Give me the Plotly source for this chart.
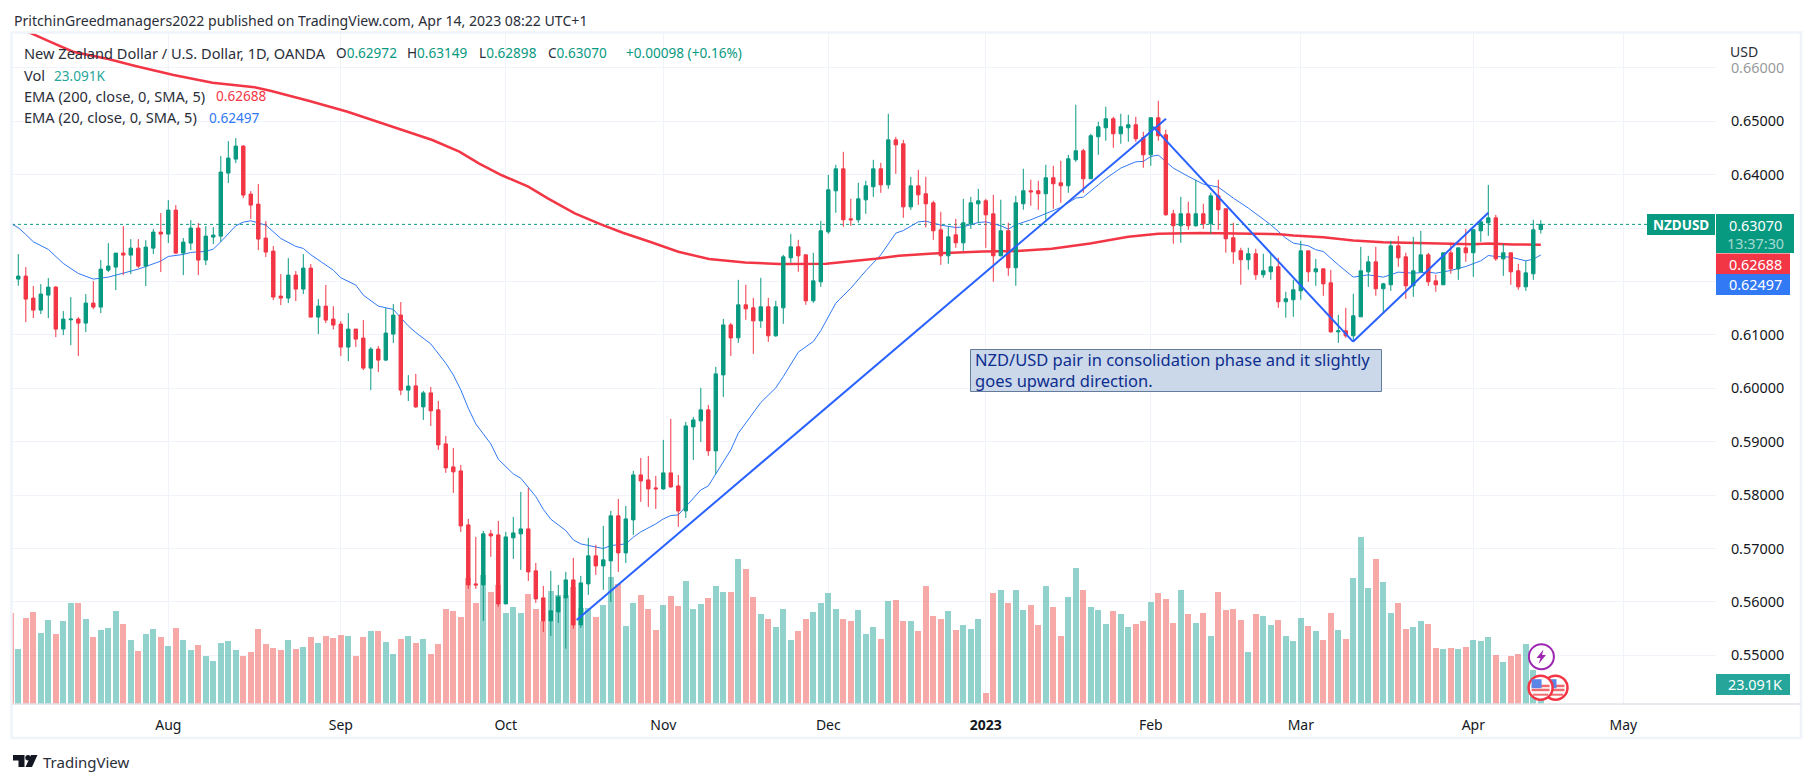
import plotly.graph_objects as go

# ---------- values (prices in 1e-5 points, volume in K) ----------
opens_pts = [
62045,62101,61689,61464,61745,61895,61109,61283,61296,61221,
61596,61521,62213,62270,62532,62494,62625,62288,62625,62925,
62888,63337,62532,62719,63000,62401,62831,62850,64030,64292,
64536,63637,63449,62813,62569,61727,61689,62120,61858,62251,
61333,61539,61296,61202,60772,61109,60940,60378,60734,60528,
61015,61371,59966,60045,59652,59914,59596,58959,58528,58453,
57442,56337,56318,57274,57255,55963,57199,57274,57367,56581,
56075,55644,55813,56075,56412,55569,56337,56862,56674,56768,
57611,56918,57536,58378,58285,58135,58116,58416,58172,57704,
59277,59390,59596,58828,60251,61187,60945,61563,61507,61263,
61526,60983,61507,62443,62649,62499,61638,61994,62930,63698,
64110,63173,63155,63529,63773,64110,63810,64653,64578,63398,
63791,63642,63473,62968,62481,62874,62724,63080,63454,63511,
63267,62482,62950,62257,63456,63699,63699,63643,63943,63849,
63793,64280,64448,63924,64710,64879,65047,64766,64879,64935,
64692,64373,65066,64748,63268,63044,63268,63044,63268,63081,
63605,63362,62819,62576,62407,62519,62126,62182,62276,61621,
61658,61825,62574,62181,62237,61975,61057,61076,60983,61338,
62181,62368,61863,61938,62668,62462,61919,62181,62499,62012,
61938,62537,62237,62630,62537,62949,63099,63192,62424,62537,
62200,61900,62144,62972]
closes_pts = [
62101,61670,61464,61764,61895,61109,61296,61296,61221,61596,
61521,62232,62288,62532,62494,62625,62288,62644,62925,62888,
63337,62532,62738,63000,62401,62850,62869,64049,64311,64536,
63618,63431,62794,62551,61708,61689,62120,61858,62251,61333,
61539,61277,61184,60772,61109,60921,60378,60734,60528,61034,
61371,59966,60041,59652,59914,59577,58940,58509,58435,57423,
56318,56318,57274,57236,55963,57217,57292,57367,56562,56056,
55644,55832,56094,56412,55569,56356,56862,56674,56787,57611,
56918,57554,58378,58266,58116,58116,58416,58154,57704,59296,
59408,59596,58828,60270,61187,60944,61563,61488,61263,61526,
60983,61526,62462,62649,62481,61638,62012,62949,63717,64110,
63155,63155,63548,63791,64110,63810,64653,64559,63398,63791,
63623,63454,62949,62481,62836,62724,63099,63473,63511,63248,
62481,62950,62257,63474,63699,63680,63643,63943,63830,63793,
64298,64448,63924,64729,64898,65047,64766,64898,64935,64673,
64373,65066,64729,63250,63044,63268,63044,63268,63081,63605,
63343,62800,62557,62407,62519,62126,62201,62276,61621,61677,
61845,62574,62181,62237,61956,61057,61076,60983,61357,62200,
62368,61863,61956,62668,62443,61919,62200,62499,61994,61938,
62537,62237,62630,62537,62968,63117,63192,62424,62537,62181,
61900,62162,62968,63070]
highs_pts = [
62513,62270,61914,61951,62064,61914,61446,61708,61333,61764,
62008,62401,62719,62532,63037,62794,62794,62775,62981,63281,
63524,63431,62813,63150,63094,63037,63019,64348,64629,64685,
64554,63693,63824,63131,62663,62139,62438,62195,62513,62326,
61670,61933,61539,61258,61408,61109,61277,60772,60790,61502,
61577,61614,60247,60270,59951,60026,59764,59109,58884,58566,
57554,57217,57330,57348,57517,57311,57592,58060,58135,56730,
56300,56581,56318,56562,56824,56487,57199,57068,57423,57704,
57929,57798,58453,58697,58734,58360,59034,59427,58378,59371,
59464,60008,59689,60401,61300,61225,62031,61938,61694,62069,
61694,61638,62499,62893,62780,62499,62537,63136,63997,64185,
64428,63548,63848,63885,64278,64222,65140,64709,64653,63960,
64091,63960,63511,63305,63024,63173,63548,63585,63735,63548,
63623,63531,63100,63605,64111,63905,63886,64186,64167,64261,
64373,65310,64486,64766,64991,65272,65085,65141,65122,65085,
64804,65066,65384,64841,63343,63587,63493,63905,63456,63662,
63905,63362,63100,62632,62632,62613,62519,62519,62444,61808,
62032,62762,62574,62424,62237,62218,61376,61507,61769,62649,
62481,62649,61975,62762,62855,62537,62836,62949,62537,62125,
62537,62724,62630,62986,62986,63155,63810,63248,62705,62537,
62331,62387,63155,63149]
lows_pts = [
61920,61240,61315,61390,61315,60959,60996,60809,60603,61052,
61483,61408,62176,61839,62120,62139,62251,61914,62513,62176,
62719,62513,62120,62588,62120,62307,62700,62738,63843,64217,
63562,63169,62588,62457,61652,61558,61596,61633,61764,61333,
61015,61221,61102,60603,60509,60772,60341,59966,60303,60509,
60847,59873,59760,59633,59408,59296,58847,58416,58041,57311,
56244,56244,55644,56843,55907,55963,56805,56599,56393,55981,
55438,55363,55607,55124,55495,55513,56131,56506,56225,56000,
56562,56730,57255,57873,57779,57742,58097,58135,57405,57573,
58659,58996,58734,58397,59839,60607,60851,61282,60645,61132,
60870,60964,61207,62350,62181,61563,61601,61900,62893,63286,
63024,63042,63099,63267,63585,63660,63735,64016,63192,63342,
63436,63011,62780,62312,62331,62630,62574,62986,63099,62630,
61994,62469,62107,61920,63343,63418,63343,63156,63362,63474,
63662,64242,63662,63924,64373,64635,64504,64579,64617,64617,
64130,64167,64635,63231,62707,62725,62969,63025,62988,62894,
62969,62538,62332,61939,62220,62032,62070,62032,61508,61321,
61340,61657,61994,61919,61732,61039,60851,60945,60889,61338,
61900,61732,61413,61825,62275,61675,61713,62181,61919,61807,
61938,62144,62031,62368,62087,62743,62855,62387,62106,61938,
61844,61825,62031,62898]
# first entry is a bar just cut off by the left edge of the pane
volumes_k = [104.7,
63.5,99.3,106.3,82.0,97.0,80.9,95.9,116.7,116.7,98.2,
77.4,85.5,87.8,107.4,92.4,73.9,61.2,80.9,86.6,77.4,
67.0,87.8,73.9,62.4,68.1,55.4,49.7,70.5,72.8,62.4,
55.4,60.1,86.6,69.3,64.7,62.4,73.9,63.5,65.8,77.4,
70.5,78.5,76.2,79.7,78.5,55.4,77.4,84.3,84.3,71.6,
57.8,75.1,78.5,70.5,75.1,57.8,69.3,109.7,107.4,100.5,
145.5,116.7,149.0,129.4,137.4,105.1,112.0,105.1,127.1,109.7,
95.9,130.5,125.9,125.9,135.1,110.9,110.9,100.5,114.3,146.7,
138.6,90.1,116.7,125.9,109.7,85.5,114.3,124.7,113.2,142.1,
109.7,115.5,122.4,136.3,129.4,129.4,167.5,155.9,123.6,104.0,
98.2,88.9,109.7,73.9,84.3,98.2,106.3,116.7,128.2,109.7,
98.2,95.9,108.6,80.9,88.9,75.1,119.0,120.1,95.9,95.9,
84.3,136.3,101.6,98.2,107.4,85.5,91.2,86.6,98.2,12.7,
128.2,131.7,116.7,131.7,108.6,114.3,91.2,136.3,112.0,78.5,
123.6,157.1,131.7,112.0,108.6,92.4,107.4,104.0,88.9,92.4,
95.9,117.8,128.2,121.3,93.6,131.7,104.0,93.6,105.1,78.5,
129.4,108.6,109.7,97.0,60.1,104.0,101.6,91.2,97.0,78.5,
72.8,99.3,90.1,84.3,73.9,105.1,85.5,75.1,145.5,192.9,
134.0,167.5,140.9,105.1,116.7,86.6,88.9,95.9,92.4,64.7,
63.5,64.7,63.5,65.8,73.9,72.8,77.4,56.6,48.5,55.4,
57.8,69.3,39.3,23.091]

ema20_bar = [-1,0,1,2,4,6,8,10,12,14,16,19,20,22,23,25,26,27,28,29,30,31,33,35,37,38,39,41,42,43,45,46,48,50,
52,53,55,57,58,59,60,61,63,64,66,67,69,70,71,73,74,75,77,78,79,81,82,83,85,86,87,88,89,91,92,93,95,96,
97,99,101,102,104,106,107,109,111,113,115,117,118,120,121,123,125,126,128,129,
130,131,132,133,135,137,139,141,142,144,145,147,149,150,151,152,153,154,156,158,160,162,164,166,167,169,170,172,173,
174,176,178,180,182,184,186,188,189,191,193,195,196,197,199,201,202,203]
ema20_pts = [63087,63006,62881,62744,62601,62338,62151,62045,62082,62164,62232,62382,62469,62507,62544,62563,62607,62744,62888,63044,63112,63137,63056,62807,62657,62619,62501,62307,62213,62070,61933,61745,61539,61477,
61169,61044,60831,60469,60251,59970,59627,59333,58959,58672,58397,58316,57973,57735,57548,57336,57161,57086,57036,56999,57055,57086,57211,57311,57461,57554,57617,57629,57785,58097,58172,58397,58847,59159,
59347,59734,60009,60221,60677,60876,61082,61594,61875,62200,62499,62905,62955,63117,63130,63055,63011,63024,63105,63117,
63081,63044,62981,63062,63156,63268,63387,63562,63581,63811,63930,64124,64242,64248,64342,64367,64248,64124,63968,63824,63768,63562,63375,63156,63062,62813,62719,62669,62594,
62562,62312,62081,62125,62081,62175,62156,62175,62156,62206,62281,62387,62487,62468,62456,62387,62418,62497]

ema200_bar = [-1,1.9,4.2,7.3,12,15.6,20.7,25.9,31.5,33.6,38.7,43.9,50,55.2,58.8,61.4,64.4,68,70.6,74.2,77.6,
80.6,84.2,88,92.1,96.9,101.5,107.7,114.3,117.4,122,128.6,133.2,137.8,142.9,148,152,157.6,
168.2,170,174,178,182,186,190,194,196,199.3,203]
ema200_pts = [66820,66629,66491,66303,66167,66036,65867,65723,65637,65573,65386,65180,64899,64650,64431,64213,63994,63775,63558,63277,63075,
62913,62744,62557,62420,62357,62326,62332,62426,62482,62526,62563,62569,62613,62713,62838,62894,62906,
62886,62861,62830,62768,62737,62724,62705,62699,62712,62693,62688]

trend_bar = [[74.45,153.03],[151.3,177.96],[177.96,196.0]]
trend_pts = [[55661,65049],[64899,60873],[60873,63288]]

price_ticks = [0.55,0.56,0.57,0.58,0.59,0.60,0.61,0.62,0.63,0.64,0.65,0.66]
# the 0.62 and 0.63 labels sit under the last-value tags in the reference
price_labels = ["0.55000","0.56000","0.57000","0.58000","0.59000","0.60000","0.61000","","","0.64000","0.65000","0.66000"]
month_bars = [20,43,65,86,108,129,151,171,194,214]
month_labels = ["Aug","Sep","Oct","Nov","Dec","<b>2023</b>","Feb","Mar","Apr","May"]

# ---------- page geometry ----------
W, H = 1814, 783
L, R, T, B = 12, 1716, 33, 704
GREEN, RED, BLUE = "#089981", "#f23645", "#3179f5"
VOLG, VOLR = "rgba(38,166,154,0.5)", "rgba(239,83,80,0.5)"
INK = "#131722"
FONT = "Noto Sans"
BAR_PX, PRICE_PX = 7.5, 5340.0
bar0_px, p64_px = 18.3, 174.7
XR = [(L-bar0_px)/BAR_PX, (R-bar0_px)/BAR_PX]
YR = [0.64+(p64_px-B)/PRICE_PX, 0.64+(p64_px-T)/PRICE_PX]
VR = [0, (B-T)*1.155]

pr = lambda a: [v/1e5 for v in a]
opens, highs, lows, closes = pr(opens_pts), pr(highs_pts), pr(lows_pts), pr(closes_pts)
bars = list(range(len(opens)))
vol_colors = [VOLR]+[VOLG if c >= o else VOLR for o, c in zip(opens, closes)]

def fx(px): return (px-L)/(R-L)
def fy(py): return (B-py)/(B-T)

fig = go.Figure()
fig.add_bar(x=list(range(-1, len(opens))), y=volumes_k, marker=dict(color=vol_colors, line_width=0), width=0.82, yaxis="y")
fig.add_scatter(x=[XR[0], XR[1]], y=[closes[-1]]*2, mode="lines", line=dict(color=GREEN, width=1, dash="dot"), yaxis="y2")
fig.add_scatter(x=ema20_bar, y=pr(ema20_pts), mode="lines", line=dict(color=BLUE, width=1), yaxis="y2")
fig.add_scatter(x=ema200_bar, y=pr(ema200_pts), mode="lines", line=dict(color=RED, width=2.5), yaxis="y2")
fig.add_candlestick(x=bars, open=opens, high=highs, low=lows, close=closes, yaxis="y3",
    increasing=dict(line=dict(color=GREEN, width=1), fillcolor=GREEN),
    decreasing=dict(line=dict(color=RED, width=1), fillcolor=RED))
for xs, ps in zip(trend_bar, trend_pts):
    fig.add_scatter(x=xs, y=pr(ps), mode="lines", line=dict(color="#2962ff", width=2), yaxis="y3")

shapes, ann = [], []
def rect(x0, y0, x1, y1, fill, line=None, lw=0):
    shapes.append(dict(type="rect", xref="paper", yref="paper", x0=fx(x0), x1=fx(x1), y0=fy(y0), y1=fy(y1),
                       fillcolor=fill, line=dict(color=line or "rgba(0,0,0,0)", width=lw)))
def circle(cx, cy, r, fill, line, lw):
    shapes.append(dict(type="circle", xref="paper", yref="paper", x0=fx(cx-r), x1=fx(cx+r), y0=fy(cy+r), y1=fy(cy-r),
                       fillcolor=fill, line=dict(color=line, width=lw)))
def poly(pts, fill):
    d = "M"+" L".join(f"{fx(a):.5f},{fy(b):.5f}" for a, b in pts)+" Z"
    shapes.append(dict(type="path", xref="paper", yref="paper", path=d, fillcolor=fill, line=dict(width=0)))
def text(x, y, s, color=INK, size=14, anchor="left"):
    ann.append(dict(xref="paper", yref="paper", x=fx(x), y=fy(y), text=s, showarrow=False, xanchor=anchor, yanchor="middle",
                    font=dict(family=FONT, size=size, color=color), align="left", borderpad=0))

# frame
rect(L-0.5, T-0.5, 1801, 738, "rgba(0,0,0,0)", "#f0f3fa", 2.5)
shapes.append(dict(type="line", xref="paper", yref="paper", x0=fx(L), x1=fx(1801), y0=fy(B), y1=fy(B), line=dict(color="#e0e3eb", width=1.5)))

# header
NAME = 14.6
text(13, 20, "PritchinGreedmanagers2022 published on TradingView.com, Apr 14, 2023 08:22 UTC+1", "#2a2e39", 14.1)
text(23, 53, "New Zealand Dollar / U.S. Dollar, 1D, OANDA", "#2a2e39", NAME)
for x, lab, val in [(335, "O", "0.62972"), (406, "H", "0.63149"), (477.5, "L", "0.62898"), (546.5, "C", "0.63070")]:
    text(x, 53, f'{lab}<span style="color:{GREEN}">{val}</span>', "#2a2e39", 13.6)
text(624.7, 53, "+0.00098 (+0.16%)", GREEN, 13.6)
text(23, 75, "Vol", "#2a2e39", NAME)
text(52.5, 75, "23.091K", "#26a69a", 13.6)
text(23, 96, "EMA (200, close, 0, SMA, 5)", "#2a2e39", NAME)
text(215, 96, "0.62688", RED, 13.6)
text(23, 117, "EMA (20, close, 0, SMA, 5)", "#2a2e39", NAME)
text(207.5, 117, "0.62497", BLUE, 13.6)
text(1729, 51, "USD", "#2a2e39", 14)

# note box on the chart
rect(970.5, 349.5, 1381.5, 391.5, "#cbd8ea", "#647b9c", 1)
text(974, 370.5, "NZD/USD pair in consolidation phase and it slightly<br>goes upward direction.", "#0d2e8f", 16.5)

# price scale labels
rect(1647, 214, 1715, 235, GREEN); text(1681, 224.5, "<b>NZDUSD</b>", "#ffffff", 13.5, "center")
rect(1716, 214, 1794, 253, GREEN); text(1755, 225, "0.63070", "#ffffff", 14.4, "center"); text(1755, 243, "13:37:30", "rgba(255,255,255,0.65)", 14.4, "center")
rect(1716, 253.5, 1790, 274, RED); text(1755, 264, "0.62688", "#ffffff", 14.4, "center")
rect(1716, 274, 1790, 295, BLUE); text(1755, 284.5, "0.62497", "#ffffff", 14.4, "center")
rect(1716, 674, 1790, 695, "#26a69a"); text(1755, 684.5, "23.091K", "#ffffff", 14.4, "center")
# fade of the topmost tick label
rect(1720, 60, 1790, 78, "rgba(255,255,255,0.55)")

# event icons
circle(1541.4, 656.7, 12.5, "#ffffff", "#9c27b0", 2)
poly([(1543.5, 649.5), (1536.5, 658), (1540.5, 658), (1538.5, 664), (1546, 655), (1542, 655)], "#9c27b0")
for cx in (1555.5, 1540.6):
    cy = 687.7
    circle(cx, cy, 12, "#ffffff", RED, 2.5)
    rect(cx-9, cy+1, cx+9, cy+3.5, "#f06a70")
    rect(cx-7.5, cy+6, cx+7.5, cy+8, "#f06a70")
    rect(cx-9, cy-3, cx+9, cy-0.5, "#f06a70")
    rect(cx-9, cy-8.5, cx+1, cy+0.5, "#5b86e8")

# TradingView mark
poly([(13, 755), (24.5, 755), (24.5, 767), (18.5, 767), (18.5, 760.5), (13, 760.5)], "#131722")
circle(28, 757.7, 2.7, "#131722", "#131722", 0)
poly([(31, 755), (37.5, 755), (32, 767), (25.5, 767)], "#131722")
text(42, 762, "TradingView", "#2a2e39", 15)

fig.update_layout(
    width=W, height=H, autosize=False, paper_bgcolor="#ffffff", plot_bgcolor="#ffffff", showlegend=False,
    margin=dict(l=L, r=W-R, t=T, b=H-B, pad=0), bargap=0, boxgap=0.35,
    font=dict(family=FONT, size=14, color=INK), shapes=shapes, annotations=ann,
    xaxis=dict(range=XR, tickmode="array", tickvals=month_bars, ticktext=month_labels, showgrid=True, gridcolor="#f0f3fa",
               gridwidth=1, zeroline=False, showline=False, rangeslider=dict(visible=False), ticks="outside", ticklen=8,
               tickcolor="rgba(0,0,0,0)", tickfont=dict(family=FONT, size=14, color=INK)),
    yaxis=dict(range=VR, visible=False, showgrid=False, zeroline=False, fixedrange=True),
    yaxis2=dict(range=YR, overlaying="y", side="right", anchor="x", tickmode="array", tickvals=price_ticks, ticktext=price_labels,
                showgrid=True, gridcolor="#f0f3fa", gridwidth=1, zeroline=False, showline=False, ticks="outside", ticklen=11,
                tickcolor="rgba(0,0,0,0)", tickfont=dict(family=FONT, size=14.4, color=INK)),
    yaxis3=dict(range=YR, overlaying="y", side="right", anchor="x", visible=False, showgrid=False, zeroline=False),
)
for tr in fig.data:
    tr.showlegend = False
    tr.hoverinfo = "skip"

fig.write_html("out.html", config=dict(displayModeBar=False),
               post_script="document.body.style.margin='0';document.body.style.overflow='hidden';")
